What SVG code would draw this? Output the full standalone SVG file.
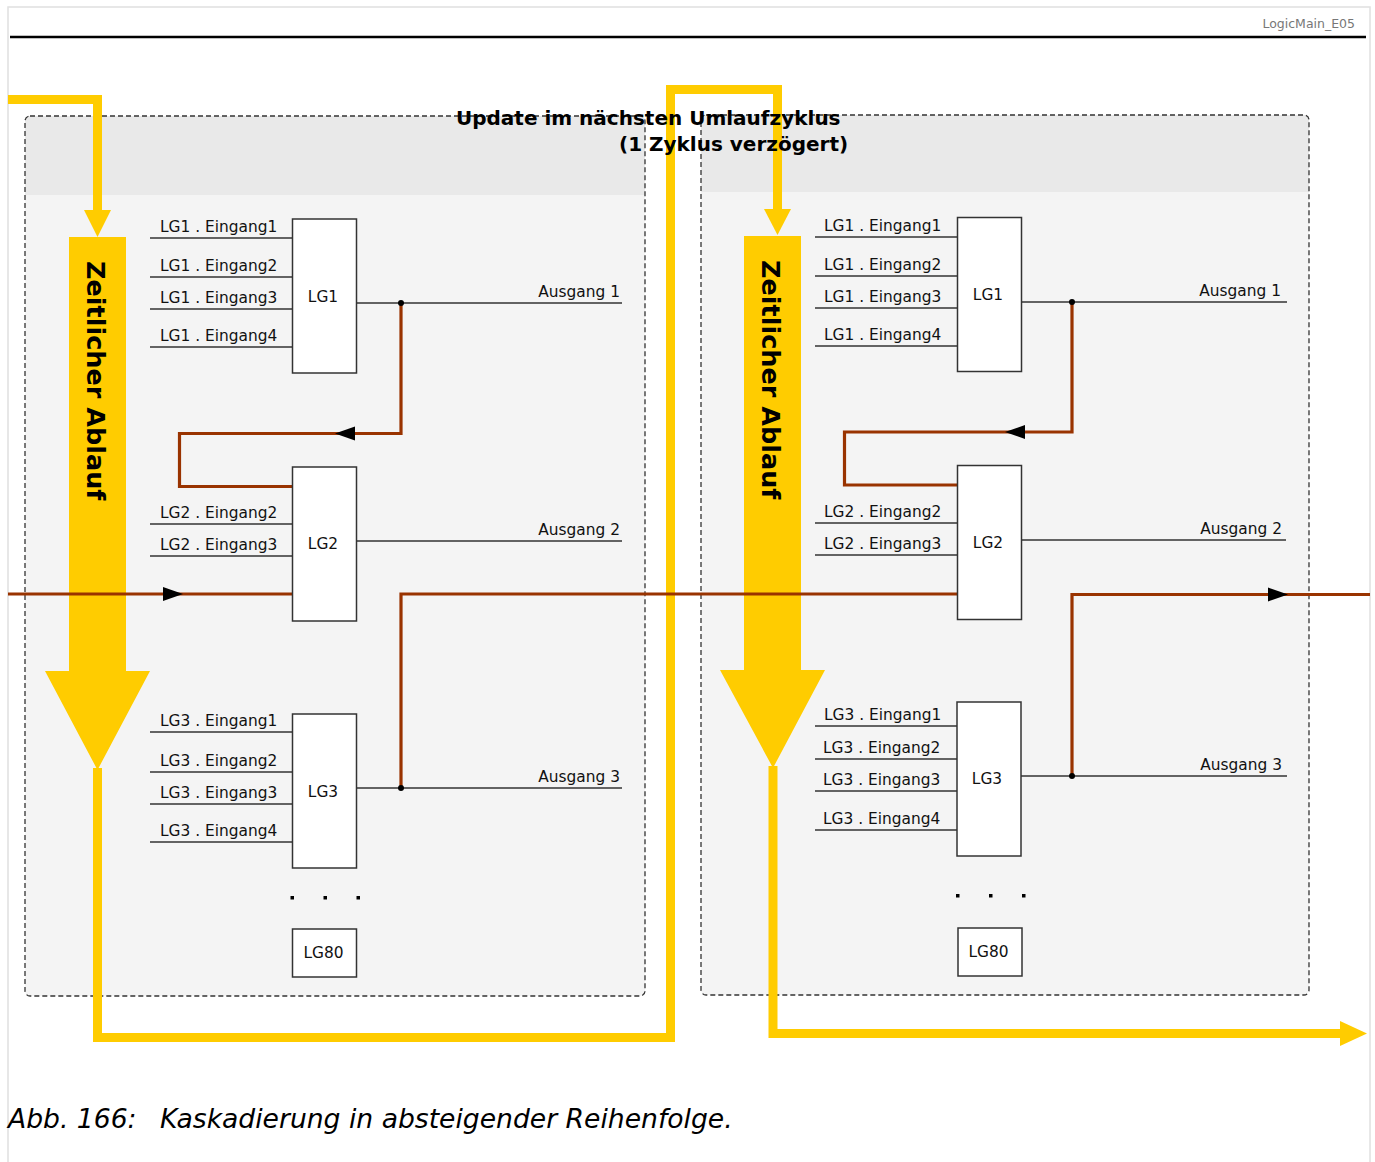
<svg xmlns="http://www.w3.org/2000/svg" width="1375" height="1162" viewBox="0 0 1375 1162">
<defs>
<style>
.lbl{font-family:"DejaVu Sans",sans-serif;font-size:15.4px;fill:#111}
.box{fill:#fff;stroke:#333;stroke-width:1.5}
.wire{stroke:#333;stroke-width:1.5;fill:none}
.brown{stroke:#993300;stroke-width:3.2;fill:none}
.yel{stroke:#FFCC00;stroke-width:9;fill:none}
.yelf{fill:#FFCC00}
.panel{stroke:#333;stroke-width:1.3;stroke-dasharray:5,3;fill:none}
.vt{font-family:"DejaVu Sans",sans-serif;font-size:25.5px;font-weight:bold;fill:#000}
</style>
<path id="ah" d="M0,0 L-20,-7 L-20,7 Z" fill="#000"/>
</defs>
<rect width="1375" height="1162" fill="#fff"/>
<rect x="8" y="7" width="1362" height="1170" fill="none" stroke="#e0e0e0" stroke-width="1.5"/>
<line x1="10" y1="37" x2="1366" y2="37" stroke="#000" stroke-width="2.5"/>
<text x="1355" y="28" text-anchor="end" font-family="DejaVu Sans, sans-serif" font-size="12.5" fill="#777">LogicMain_E05</text>

<g id="panel-left">
<rect x="25" y="116" width="620" height="880" rx="5" fill="#f4f4f4"/>
<path d="M30,116 H640 a5,5 0 0 1 5,5 V195 H25 V121 a5,5 0 0 1 5,-5 Z" fill="#e9e9e9"/>
<rect x="25" y="116" width="620" height="880" rx="5" class="panel"/>
</g>
<g id="panel-right">
<rect x="701" y="115" width="608" height="880" rx="5" fill="#f4f4f4"/>
<path d="M706,115 H1304 a5,5 0 0 1 5,5 V192 H701 V120 a5,5 0 0 1 5,-5 Z" fill="#e9e9e9"/>
<rect x="701" y="115" width="608" height="880" rx="5" class="panel"/>
</g>

<g id="flow">
<polyline class="yel" points="8,99.5 97.5,99.5 97.5,212"/>
<polygon class="yelf" points="84,210 111,210 97.5,237"/>
<polygon class="yelf" points="69,237 126,237 126,671 150,671 97.5,770 45,671 69,671"/>
<polyline class="yel" points="97.5,768 97.5,1037.5 670.5,1037.5 670.5,89.5 777.5,89.5 777.5,212"/>
<polygon class="yelf" points="764,209 791,209 777.5,235"/>
<polygon class="yelf" points="744,236 801,236 801,670 825,670 773,768 720,670 744,670"/>
<polyline class="yel" points="773,766 773,1033.5 1342,1033.5"/>
<polygon class="yelf" points="1340,1021 1367,1033.5 1340,1046"/>
<text class="vt" transform="translate(87,261) rotate(90)">Zeitlicher Ablauf</text>
<text class="vt" transform="translate(762,260) rotate(90)">Zeitlicher Ablauf</text>
</g>

<g id="connectors">
<line class="wire" x1="150" y1="238" x2="292" y2="238"/>
<line class="wire" x1="150" y1="277" x2="292" y2="277"/>
<line class="wire" x1="150" y1="309" x2="292" y2="309"/>
<line class="wire" x1="150" y1="347" x2="292" y2="347"/>
<line class="wire" x1="357" y1="303" x2="622" y2="303"/>
<line class="wire" x1="150" y1="524" x2="292" y2="524"/>
<line class="wire" x1="150" y1="556" x2="292" y2="556"/>
<line class="wire" x1="357" y1="541" x2="622" y2="541"/>
<line class="wire" x1="150" y1="732" x2="292" y2="732"/>
<line class="wire" x1="150" y1="772" x2="292" y2="772"/>
<line class="wire" x1="150" y1="804" x2="292" y2="804"/>
<line class="wire" x1="150" y1="842" x2="292" y2="842"/>
<line class="wire" x1="357" y1="788" x2="622" y2="788"/>
<line class="wire" x1="815" y1="237" x2="957" y2="237"/>
<line class="wire" x1="815" y1="276" x2="957" y2="276"/>
<line class="wire" x1="815" y1="308" x2="957" y2="308"/>
<line class="wire" x1="815" y1="346" x2="957" y2="346"/>
<line class="wire" x1="1021" y1="302" x2="1287" y2="302"/>
<line class="wire" x1="815" y1="523" x2="957" y2="523"/>
<line class="wire" x1="815" y1="555" x2="957" y2="555"/>
<line class="wire" x1="1021" y1="540" x2="1286" y2="540"/>
<line class="wire" x1="815" y1="726" x2="957" y2="726"/>
<line class="wire" x1="815" y1="759" x2="957" y2="759"/>
<line class="wire" x1="815" y1="791" x2="957" y2="791"/>
<line class="wire" x1="815" y1="830" x2="957" y2="830"/>
<line class="wire" x1="1021" y1="776" x2="1287" y2="776"/>
<polyline class="brown" points="401,303 401,433.5 179.5,433.5 179.5,486.5 292,486.5"/>
<polyline class="brown" points="8,594 292,594"/>
<polyline class="brown" points="401,788 401,594 957,594"/>
<polyline class="brown" points="1072,302 1072,432 844.5,432 844.5,485 957,485"/>
<polyline class="brown" points="1072,776 1072,594.5 1370,594.5"/>
<use href="#ah" transform="translate(335,433.5) rotate(180)"/>
<use href="#ah" transform="translate(183,594)"/>
<use href="#ah" transform="translate(1005,432) rotate(180)"/>
<use href="#ah" transform="translate(1288,594.5)"/>
<circle cx="401" cy="303" r="3"/>
<circle cx="401" cy="788" r="3"/>
<circle cx="1072" cy="302" r="3"/>
<circle cx="1072" cy="776" r="3"/>
</g>

<g id="labels-left" class="lbl">
<text x="160" y="231.5">LG1 . Eingang1</text>
<text x="160" y="270.5">LG1 . Eingang2</text>
<text x="160" y="302.5">LG1 . Eingang3</text>
<text x="160" y="340.5">LG1 . Eingang4</text>
<text x="620" y="297" text-anchor="end">Ausgang 1</text>
<text x="160" y="517.5">LG2 . Eingang2</text>
<text x="160" y="549.5">LG2 . Eingang3</text>
<text x="620" y="535" text-anchor="end">Ausgang 2</text>
<text x="160" y="725.5">LG3 . Eingang1</text>
<text x="160" y="765.5">LG3 . Eingang2</text>
<text x="160" y="797.5">LG3 . Eingang3</text>
<text x="160" y="835.5">LG3 . Eingang4</text>
<text x="620" y="782" text-anchor="end">Ausgang 3</text>
</g>
<g id="labels-right" class="lbl">
<text x="824" y="230.5">LG1 . Eingang1</text>
<text x="824" y="269.5">LG1 . Eingang2</text>
<text x="824" y="301.5">LG1 . Eingang3</text>
<text x="824" y="339.5">LG1 . Eingang4</text>
<text x="1281" y="296" text-anchor="end">Ausgang 1</text>
<text x="824" y="516.5">LG2 . Eingang2</text>
<text x="824" y="548.5">LG2 . Eingang3</text>
<text x="1282" y="534" text-anchor="end">Ausgang 2</text>
<text x="824" y="719.5">LG3 . Eingang1</text>
<text x="823" y="752.5">LG3 . Eingang2</text>
<text x="823" y="784.5">LG3 . Eingang3</text>
<text x="823" y="823.5">LG3 . Eingang4</text>
<text x="1282" y="770" text-anchor="end">Ausgang 3</text>
</g>

<g id="LG1-left"><rect class="box" x="292.5" y="219" width="64" height="154"/><text class="lbl" x="323" y="301.5" text-anchor="middle">LG1</text></g>
<g id="LG2-left"><rect class="box" x="292.5" y="467" width="64" height="154"/><text class="lbl" x="323" y="549" text-anchor="middle">LG2</text></g>
<g id="LG3-left"><rect class="box" x="292.5" y="714" width="64" height="154"/><text class="lbl" x="323" y="797" text-anchor="middle">LG3</text></g>
<g id="dots-left" fill="#000"><rect x="290.5" y="896" width="3.5" height="3.5"/><rect x="323.5" y="896" width="3.5" height="3.5"/><rect x="356.5" y="896" width="3.5" height="3.5"/></g>
<g id="LG80-left"><rect class="box" x="292.5" y="929" width="64" height="48"/><text class="lbl" x="323.5" y="958" text-anchor="middle">LG80</text></g>

<g id="LG1-right"><rect class="box" x="957.5" y="217.5" width="64" height="154"/><text class="lbl" x="988" y="300" text-anchor="middle">LG1</text></g>
<g id="LG2-right"><rect class="box" x="957.5" y="465.5" width="64" height="154"/><text class="lbl" x="988" y="548" text-anchor="middle">LG2</text></g>
<g id="LG3-right"><rect class="box" x="957" y="702" width="64" height="154"/><text class="lbl" x="987" y="784" text-anchor="middle">LG3</text></g>
<g id="dots-right" fill="#000"><rect x="956" y="894" width="3.5" height="3.5"/><rect x="989" y="894" width="3.5" height="3.5"/><rect x="1022" y="894" width="3.5" height="3.5"/></g>
<g id="LG80-right"><rect class="box" x="958" y="928" width="64" height="48"/><text class="lbl" x="988.5" y="957" text-anchor="middle">LG80</text></g>

<g id="title" font-family="DejaVu Sans, sans-serif" font-size="20" font-weight="bold" fill="#000">
<text x="456" y="125">Update im nächsten Umlaufzyklus</text>
<text x="619" y="150.5">(1 Zyklus verzögert)</text>
</g>

<text font-family="DejaVu Sans, sans-serif" font-size="26.6" font-style="italic" fill="#000" y="1128"><tspan x="8">Abb. 166:</tspan><tspan x="160">Kaskadierung in absteigender Reihenfolge.</tspan></text>
</svg>
